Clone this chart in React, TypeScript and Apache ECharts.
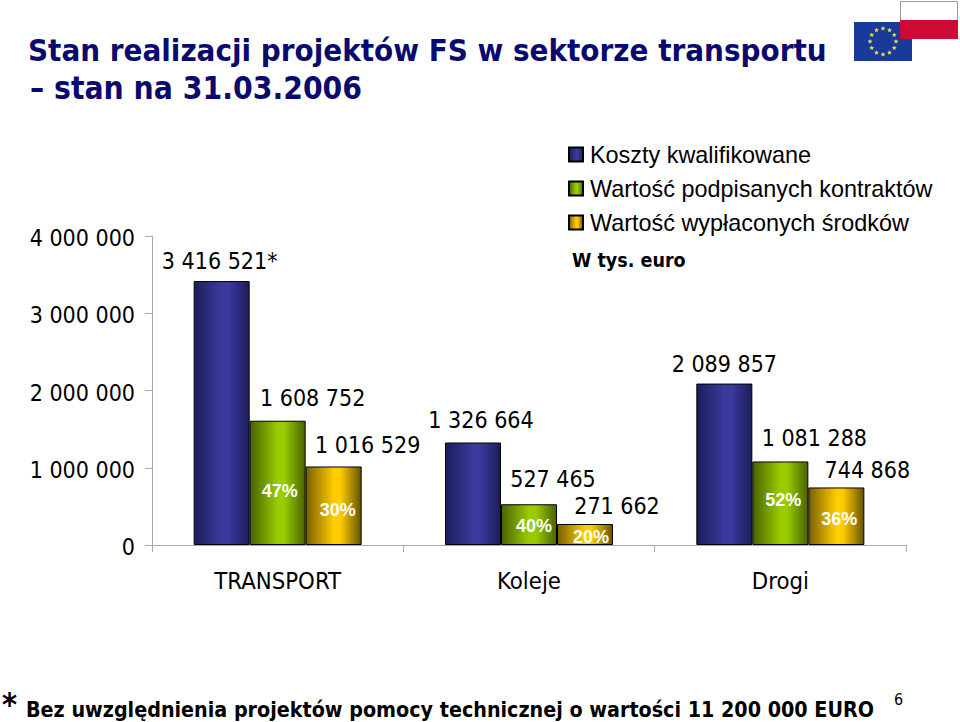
import React, { useEffect, useRef } from "react";
import * as echarts from "echarts";

const categories = ["TRANSPORT", "Koleje", "Drogi"];
const kwalifikowane = [3416521, 1326664, 2089857];
const podpisane = [1608752, 527465, 1081288];
const wyplacone = [1016529, 271662, 744868];
const podpisanePct = ["47%", "40%", "52%"];
const wyplaconePct = ["30%", "20%", "36%"];
const seriesNames = ["Koszty kwalifikowane", "Wartość podpisanych kontraktów", "Wartość wypłaconych środków"];
const kwalifikowaneText = ["3 416 521*", "1 326 664", "2 089 857"];
const podpisaneText = ["1 608 752", "527 465", "1 081 288"];
const wyplaconeText = ["1 016 529", "271 662", "744 868"];
const yTicks = [0, 1000000, 2000000, 3000000, 4000000];

const F = "'Liberation Sans', Arial, sans-serif";
const FC = "'DejaVu Sans Condensed', 'DejaVu Sans', sans-serif";
const TITLE = "#0a0a6e";

const fmt = (v: number) => String(v).replace(/\B(?=(\d{3})+$)/g, " ");

const grad = (edge: string, mid: string, dark: string) => ({
  type: "linear", x: 0, y: 0, x2: 1, y2: 0,
  colorStops: [
    { offset: 0, color: dark }, { offset: 0.5, color: mid }, { offset: 0.62, color: mid }, { offset: 1, color: edge },
  ],
});
const BLUE = grad("#1d1d5c", "#3a3a9e", "#1d1d5c");
const GREEN = grad("#4a6300", "#99cc00", "#4a6300");
const GOLD = grad("#665200", "#ffcc00", "#7a6000");

function starPoints(cx: number, cy: number, r: number) {
  const pts: number[][] = [];
  for (let i = 0; i < 10; i++) {
    const a = -Math.PI / 2 + (i * Math.PI) / 5;
    const rr = i % 2 ? r * 0.42 : r;
    pts.push([cx + rr * Math.cos(a), cy + rr * Math.sin(a)]);
  }
  return pts;
}

export default function App() {
  const ref = useRef<HTMLDivElement>(null);
  useEffect(() => {
    document.body.style.margin = "0";
    const chart = echarts.init(ref.current!, null, { renderer: "svg" });

    const barSeries = (name: string, values: number[], color: any, texts: string[], offsets: number[][]) => ({
      name, type: "bar", barWidth: 56, barGap: 0,
      data: values.map((v, i) => ({
        value: v,
        label: { show: true, position: "top", formatter: texts[i], color: "#000", fontFamily: FC, fontSize: 23, offset: offsets[i] },
      })),
      itemStyle: { color, borderColor: "#000", borderWidth: 1 }, xAxisIndex: 0, yAxisIndex: 0, z: 2,
    });
    const pctSeries = (name: string, values: number[], texts: string[] | null, offsets: number[][]) => ({
      name, type: "bar", barWidth: 56, barGap: 0, xAxisIndex: 1, yAxisIndex: 1, z: 3,
      itemStyle: { color: "transparent" }, tooltip: { show: false }, silent: true,
      data: values.map((v, i) => ({
        value: v,
        label: {
          show: !!texts, position: "inside", formatter: texts ? texts[i] : "", color: "#fff",
          fontFamily: F, fontWeight: "bold", fontSize: 18, offset: offsets[i],
        },
      })),
    });

    const stars: any[] = [];
    for (let i = 0; i < 12; i++) {
      const a = (i * Math.PI) / 6;
      stars.push({
        type: "polygon", silent: true, z: 11,
        shape: { points: starPoints(883 + 13 * Math.sin(a), 41.5 - 13 * Math.cos(a), 2.6) },
        style: { fill: "#f5e642" },
      });
    }

    chart.setOption({
      animation: false,
      grid: { left: 152, top: 236, width: 754, height: 309, containLabel: false },
      legend: {
        data: seriesNames, orient: "vertical", left: 563, top: 138, itemWidth: 14, itemHeight: 14, itemGap: 11,
        selectedMode: false, icon: "rect", textStyle: { fontFamily: F, fontSize: 23.4, color: "#000", padding: [0, 0, 0, 2] },
      },
      xAxis: [
        {
          type: "category", data: categories, position: "bottom",
          axisLine: { lineStyle: { color: "#aaa", width: 1 } },
          axisTick: { show: true, length: 7, alignWithLabel: false, lineStyle: { color: "#aaa" } },
          axisLabel: { margin: 24, color: "#000", fontFamily: FC, fontSize: 23.7 },
        },
        { type: "category", data: categories, show: false },
      ],
      yAxis: [
        {
          type: "value", min: 0, max: 4000000, interval: 1000000,
          axisLine: { show: true, lineStyle: { color: "#aaa", width: 1 } },
          axisTick: { show: true, length: 7, lineStyle: { color: "#aaa" } },
          splitLine: { show: false },
          axisLabel: {
            margin: 17, color: "#000", fontFamily: FC, fontSize: 23,
            formatter: (v: number) => (yTicks.includes(v) ? `{t|${fmt(v)}}` : ""),
            rich: { t: { fontFamily: FC, fontSize: 23, color: "#000", padding: [4, 0, 0, 0] } },
          },
        },
        { type: "value", min: 0, max: 4000000, interval: 1000000, show: false },
      ],
      series: [
        barSeries(seriesNames[0], kwalifikowane, BLUE, kwalifikowaneText, [[-2, -4], [8, -6], [0, -3]]),
        barSeries(seriesNames[1], podpisane, GREEN, podpisaneText, [[35, -6], [24, -9], [34, -7]]),
        barSeries(seriesNames[2], wyplacone, GOLD, wyplaconeText, [[34, -5], [32, -2], [31, -1]]),
        pctSeries("pctA", kwalifikowane, null, [[0, 0], [0, 0], [0, 0]]),
        pctSeries("pctB", podpisane, podpisanePct, [[2, 8], [5, 1], [3, -3]]),
        pctSeries("pctC", wyplacone, wyplaconePct, [[4, 4], [6, 2], [3, 3]]),
      ],
      graphic: [
        { type: "text", x: 28, y: 34, style: { text: "Stan realizacji projektów FS w sektorze transportu", fill: TITLE, font: `bold 31px ${FC}` } },
        { type: "text", x: 30, y: 72, style: { text: "– stan na 31.03.2006", fill: TITLE, font: `bold 31.5px ${FC}` } },
        { type: "text", x: 572, y: 250, style: { text: "W tys. euro", fill: "#000", font: `bold 19.5px ${FC}` } },
        { type: "text", x: 2, y: 688, style: { text: "*", fill: "#000", font: `bold 32px ${FC}` } },
        { type: "text", x: 26, y: 699, style: { text: "Bez uwzględnienia projektów pomocy technicznej o wartości 11 200 000 EURO", fill: "#000", font: `bold 21.3px ${FC}` } },
        { type: "text", x: 894, y: 691, style: { text: "6", fill: "#000", font: `16px ${FC}` } },
        { type: "rect", silent: true, z: 10, shape: { x: 854, y: 22, width: 58, height: 39 }, style: { fill: "#1a3a9a" } },
        ...stars,
        { type: "rect", silent: true, z: 12, shape: { x: 900.5, y: 1.5, width: 57, height: 19 }, style: { fill: "#fff", stroke: "#999" } },
        { type: "rect", silent: true, z: 12, shape: { x: 900, y: 20, width: 58, height: 19 }, style: { fill: "#cc0a33" } },
      ],
    });
    return () => chart.dispose();
  }, []);
  return <div ref={ref} style={{ width: 960, height: 722 }} />;
}
